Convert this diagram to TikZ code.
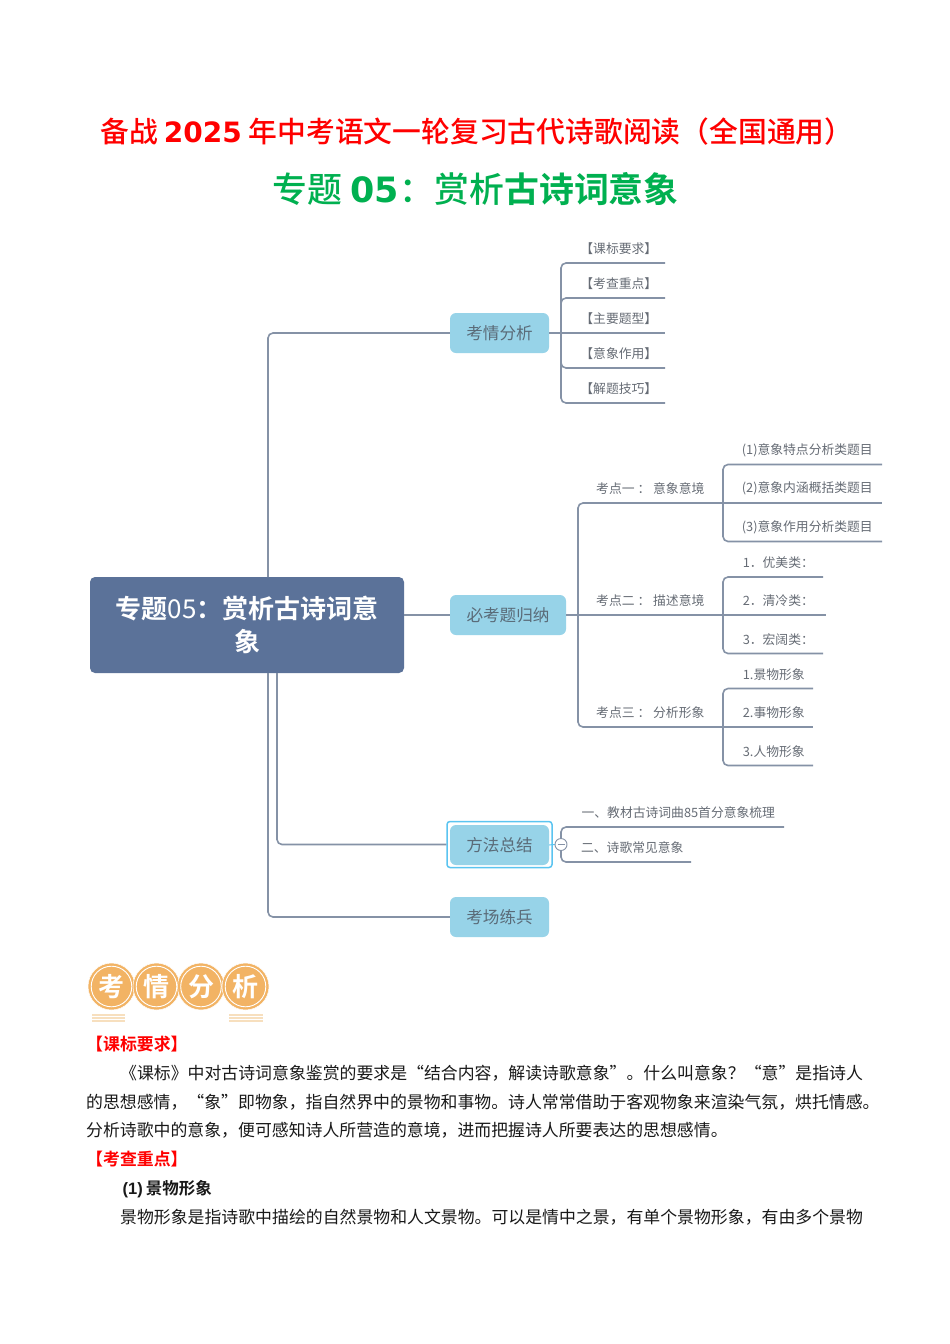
\documentclass[tikz,border=0pt]{standalone}
\usepackage{fontspec}
\setmainfont{Noto Sans CJK SC}[BoldFont={Noto Sans CJK SC Bold}]
\newfontfamily\mdcjk{Noto Sans CJK SC Medium}
\newfontfamily\djv{DejaVu Sans}
\newfontfamily\lib{Liberation Sans}
\definecolor{linec}{HTML}{8592A6}
\definecolor{rootc}{HTML}{5B7299}
\definecolor{branchc}{HTML}{97D3E8}
\definecolor{selc}{HTML}{5BC4F0}
\definecolor{labelc}{HTML}{666C75}
\definecolor{branchtxt}{HTML}{5A6B78}
\definecolor{badgec}{HTML}{F2B364}
\definecolor{badgeline}{HTML}{F7DFBE}
\definecolor{titlegreen}{HTML}{00B050}
\newcommand{\fs}[1]{\fontsize{#1}{#1}\selectfont}
\tikzset{
  conn/.style={draw=linec,line width=1.6pt,rounded corners=5pt},
  rootbox/.style={fill=rootc,rounded corners=5pt,inner sep=0pt,minimum width=314pt,minimum height=96pt,text=white,font=\fs{26}\bfseries,align=center,text width=290pt},
  branch/.style={fill=branchc,rounded corners=6pt,inner sep=0pt,minimum height=40pt,text=branchtxt,font=\fs{16.6}},
  leaf/.style={inner sep=0pt,minimum height=28pt,anchor=south east,text=labelc,font=\fs{12.8}},
  badge/.style={circle,fill=badgec,draw=white,line width=0.5pt,minimum size=47pt,inner sep=0pt,text=white,font=\fs{26}\bfseries},
  badgerule/.style={draw=badgeline,line width=1.3pt},
  heading/.style={anchor=west,inner sep=0pt,text=red,font=\fs{16.9}\bfseries},
  bodyline/.style={anchor=west,inner sep=0pt,text=black!90,font=\fs{16.88}},
}
\begin{document}
\begin{tikzpicture}[x=1pt,y=-1pt]
\useasboundingbox[fill=white] (0,0) rectangle (950,1344);
% titles
\node[anchor=west,inner sep=0pt,text=red,font=\fs{28.8}\mdcjk] (t1) at (100,132) {备战\hspace{6pt}{\fs{28}\djv\bfseries 2025}\hspace{7pt}年中考语文一轮复习古代诗歌阅读（全国通用）};
\node[anchor=west,inner sep=0pt,text=titlegreen,font=\fs{34.9}\mdcjk] (t2) at (272,189) {专题\hspace{8pt}{\djv\bfseries 05}\hspace{1pt}：赏析{\normalfont\bfseries 古诗词意象}};
% mind map nodes
\node[rootbox] (root) at (247,625) {专题{\mdseries 05}：赏析古诗词意\\[7pt]象};
\node[branch,minimum width=99pt] (b1) at (499.5,333) {考情分析};
\node[branch,minimum width=116pt] (b2) at (508,615) {必考题归纳};
\node[draw=selc,line width=1.5pt,rounded corners=3pt,inner sep=0pt,minimum width=105pt,minimum height=46pt] (b3o) at (499.5,844.5) {};
\node[branch,minimum width=99pt] (b3) at (499.5,845) {方法总结};
\node[branch,minimum width=99pt] (b4) at (499.5,917) {考场练兵};
\coordinate (r1) at (268,577);
\coordinate (r2) at (268,673);
\coordinate (r3) at (277,673);
\coordinate (j1) at (561,333);
\coordinate (j2) at (578,615);
% leaves of branch 1
\node[leaf,minimum width=92pt] (k1) at (665,263) {【课标要求】};
\node[leaf,minimum width=92pt] (k2) at (665,298) {【考查重点】};
\node[leaf,minimum width=92pt] (k3) at (665,333) {【主要题型】};
\node[leaf,minimum width=92pt] (k4) at (665,368) {【意象作用】};
\node[leaf,minimum width=92pt] (k5) at (665,403) {【解题技巧】};
% second level of branch 2
\node[leaf,minimum width=145pt] (m1) at (723,503) {考点一 ： 意象意境};
\node[leaf,minimum width=145pt] (m2) at (723,615) {考点二 ： 描述意境};
\node[leaf,minimum width=145pt] (m3) at (723,727) {考点三 ： 分析形象};
\node[leaf,minimum width=149pt] (a1) at (882,464.5) {(1)意象特点分析类题目};
\node[leaf,minimum width=149pt] (a2) at (882,503) {(2)意象内涵概括类题目};
\node[leaf,minimum width=149pt] (a3) at (882,541.5) {(3)意象作用分析类题目};
\node[leaf,minimum width=89pt] (c1) at (823,577) {1．优美类：};
\node[leaf,minimum width=95pt] (c2) at (826,615) {2．清冷类：};
\node[leaf,minimum width=89pt] (c3) at (823,653.5) {3．宏阔类：};
\node[leaf,minimum width=78pt] (d1) at (813,688.5) {1.景物形象};
\node[leaf,minimum width=78pt] (d2) at (813,727) {2.事物形象};
\node[leaf,minimum width=78pt] (d3) at (813,765.5) {3.人物形象};
% leaves of branch 3
\node[leaf,minimum width=211pt] (e1) at (784,827) {一、教材古诗词曲85首分意象梳理};
\node[leaf,minimum width=117pt] (e2) at (691,862) {二、诗歌常见意象};
% connectors
\draw[conn] (r1) |- (b1.west);
\draw[conn] (r2) |- (b4.west);
\draw[conn] (r3) |- (b3o.west);
\draw[conn] (root.east |- b2.west) -- (b2.west);
\draw[conn] (b1.east) -- (k3.south east);
\draw[conn] (j1) |- (k2.south east);
\draw[conn] (j1) |- (k1.south east);
\draw[conn] (j1) |- (k4.south east);
\draw[conn] (j1) |- (k5.south east);
\draw[conn] (b2.east) -- (m2.south east);
\draw[conn] (j2) |- (m1.south east);
\draw[conn] (j2) |- (m3.south east);
\draw[conn] (m1.south east) -- (a2.south east);
\draw[conn] (m1.south east) |- (a1.south east);
\draw[conn] (m1.south east) |- (a3.south east);
\draw[conn] (m2.south east) -- (c2.south east);
\draw[conn] (m2.south east) |- (c1.south east);
\draw[conn] (m2.south east) |- (c3.south east);
\draw[conn] (m3.south east) -- (d2.south east);
\draw[conn] (m3.south east) |- (d1.south east);
\draw[conn] (m3.south east) |- (d3.south east);
\node[circle,minimum size=12pt,inner sep=0pt] (cc) at (561,844.5) {};
\draw[conn] (cc.center) |- (e1.south east);
\draw[conn] (cc.center) |- (e2.south east);
\draw[draw=selc,line width=1pt] (b3.east) -- (b3o.east) -- (cc.west);
\node[circle,draw=linec,fill=white,line width=0.9pt,minimum size=12pt,inner sep=0pt] at (cc.center) {};
\draw[linec,line width=0.9pt] ([xshift=-3.5pt]cc.center) -- ([xshift=3.5pt]cc.center);
% badges
\node[badge] (g1) at (111.5,986.5) {考};
\node[badge] (g2) at (156.5,986.5) {情};
\node[badge] (g3) at (201,986.5) {分};
\node[badge] (g4) at (245.5,986.5) {析};
\foreach \gg in {g1,g2,g3,g4}{
  \draw[white,line width=0.9pt] (\gg.center) circle (20.3pt);
}
\foreach \yy in {1015,1018,1021}{
  \draw[badgerule] (92,\yy) -- (125,\yy);
  \draw[badgerule] (229,\yy) -- (263,\yy);
}
% body
\node[heading] (h1) at (86,1044) {【课标要求】};
\node[bodyline] (l1) at (120,1073.7) {《课标》中对古诗词意象鉴赏的要求是“结合内容，解读诗歌意象”。什么叫意象？“意”是指诗人};
\node[bodyline] (l2) at (86,1102) {的思想感情，“象”即物象，指自然界中的景物和事物。诗人常常借助于客观物象来渲染气氛，烘托情感。};
\node[bodyline] (l3) at (86,1130.7) {分析诗歌中的意象，便可感知诗人所营造的意境，进而把握诗人所要表达的思想感情。};
\node[heading] (h2) at (86,1159) {【考查重点】};
\node[anchor=west,inner sep=0pt,text=black!90,font=\fs{16.5}\bfseries] (l4) at (122.5,1188.7) {{\lib\bfseries (1)}\hspace{3pt}景物形象};
\node[bodyline] (l5) at (120,1217.5) {景物形象是指诗歌中描绘的自然景物和人文景物。可以是情中之景，有单个景物形象，有由多个景物};
\end{tikzpicture}
\end{document}
